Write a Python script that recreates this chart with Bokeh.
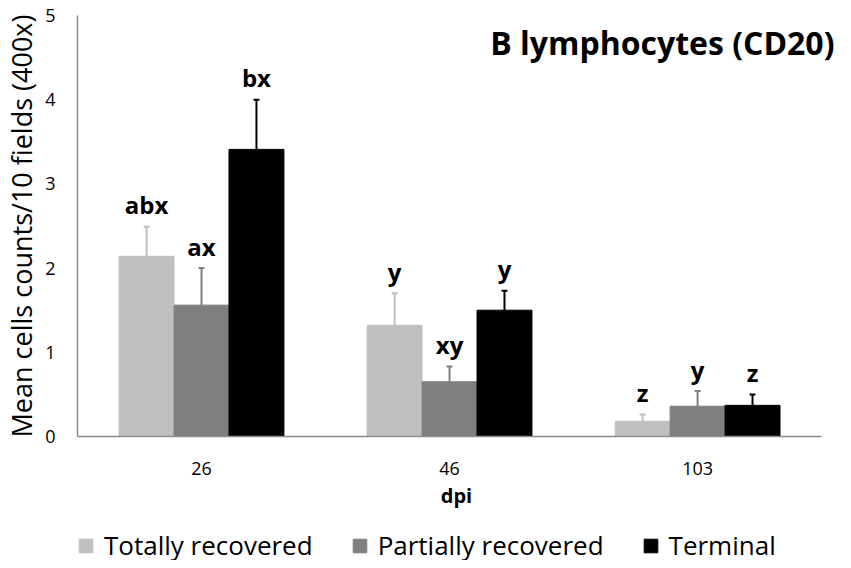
import numpy as np
from bokeh.plotting import figure
from bokeh.layouts import column
from bokeh.models import (ColumnDataSource, Range1d, FixedTicker, Whisker, TeeHead,
                          Legend, LegendItem, Label)
from bokeh.core.properties import value
from bokeh.embed import file_html
from bokeh.resources import INLINE

# ---- data ----
categories = ["26", "46", "103"]
series_names = ["Totally recovered", "Partially recovered", "Terminal"]
totally = [2.14, 1.32, 0.18]
totally_err = [0.35, 0.38, 0.08]
partially = [1.56, 0.65, 0.36]
partially_err = [0.44, 0.18, 0.18]
terminal = [3.41, 1.50, 0.37]
terminal_err = [0.59, 0.23, 0.13]
totally_letters = ["abx", "y", "z"]
partially_letters = ["ax", "xy", "y"]
terminal_letters = ["bx", "y", "z"]

colors = ["#bfbfbf", "#7f7f7f", "#000000"]
FONT = "Open Sans"

p = figure(width=835, height=520, output_backend="svg", toolbar_location=None,
           x_range=Range1d(-0.5, 2.556), y_range=Range1d(0, 5),
           min_border_left=69, min_border_right=0, min_border_top=15,
           min_border_bottom=84)
p.outline_line_color = None
p.xgrid.visible = False
p.ygrid.visible = False
p.background_fill_color = "white"

bw = 0.2215
offsets = [-bw, 0.0, bw]
idx = np.arange(len(categories))
series = [(totally, totally_err, totally_letters),
          (partially, partially_err, partially_letters),
          (terminal, terminal_err, terminal_letters)]

for (vals, errs, letters), off, col in zip(series, offsets, colors):
    vals = np.array(vals)
    errs = np.array(errs)
    src = ColumnDataSource(dict(x=idx + off, top=vals, upper=vals + errs, lab=letters))
    p.vbar(x="x", top="top", width=bw, source=src, fill_color=col, line_color=col)
    w = Whisker(base="x", upper="upper", lower="top", source=src, dimension="height",
                line_color=col, line_width=2,
                upper_head=TeeHead(size=6, line_color=col, line_width=2),
                lower_head=None)
    p.add_layout(w)
    p.text(x="x", y="upper", text="lab", source=src, text_align="center",
           text_baseline="alphabetic", y_offset=-22, text_font=value(FONT),
           text_font_style="bold", text_font_size="24px", text_color="black")

# axes
p.xaxis.ticker = FixedTicker(ticks=list(idx))
p.xaxis.major_label_overrides = {int(i): c for i, c in zip(idx, categories)}
p.xaxis.bounds = (-0.5, 2.5)
p.yaxis.ticker = FixedTicker(ticks=[0, 1, 2, 3, 4, 5])
for ax in (p.xaxis[0], p.yaxis[0]):
    ax.axis_line_color = "#8c8c8c"
    ax.axis_line_width = 1.5
    ax.major_tick_out = 0
    ax.major_tick_in = 0
    ax.minor_tick_out = 0
    ax.minor_tick_in = 0
    ax.major_label_text_font = FONT
    ax.major_label_text_font_size = "18px"
    ax.major_label_text_color = "black"
    ax.axis_label_text_font = FONT
    ax.axis_label_text_color = "black"

p.xaxis.major_label_standoff = 25
p.xaxis.axis_label = "dpi"
p.xaxis.axis_label_text_font_style = "bold"
p.xaxis.axis_label_text_font_size = "20px"
p.xaxis.axis_label_standoff = 4

p.yaxis.major_label_standoff = 22
p.yaxis.axis_label = "Mean cells counts/10 fields (400x)"
p.yaxis.axis_label_text_font_style = "normal"
p.yaxis.axis_label_text_font_size = "27px"
p.yaxis.axis_label_standoff = 2

title = Label(x=2.552, y=4.68, text="B lymphocytes (CD20)", text_align="right",
              text_baseline="alphabetic", text_font=FONT, text_font_style="bold",
              text_font_size="32px", text_color="black")
p.add_layout(title)

# legend strip below the chart
lg = figure(width=835, height=40, output_backend="svg", toolbar_location=None,
            x_axis_location=None, y_axis_location=None,
            min_border_left=68, min_border_right=0, min_border_top=10,
            min_border_bottom=0,
            x_range=Range1d(0, 1), y_range=Range1d(0, 1))
lg.outline_line_color = None
lg.xgrid.visible = False
lg.ygrid.visible = False
items = []
for col, name in zip(colors, series_names):
    # placeholder renderer below the visible range, only used for the legend swatch
    r = lg.vbar(x=[0.5], top=[-2], bottom=[-3], width=0.1,
                fill_color=col, line_color=col)
    items.append(LegendItem(label=name, renderers=[r]))
legend = Legend(items=items, orientation="horizontal", location="left",
                glyph_width=17, glyph_height=17, label_standoff=10, spacing=38,
                padding=0, margin=0, border_line_color=None,
                background_fill_alpha=0, label_text_font=FONT,
                label_text_font_size="26px", label_text_color="black")
lg.add_layout(legend, "center")

open("out.html", "w").write(file_html(column(p, lg), INLINE))
